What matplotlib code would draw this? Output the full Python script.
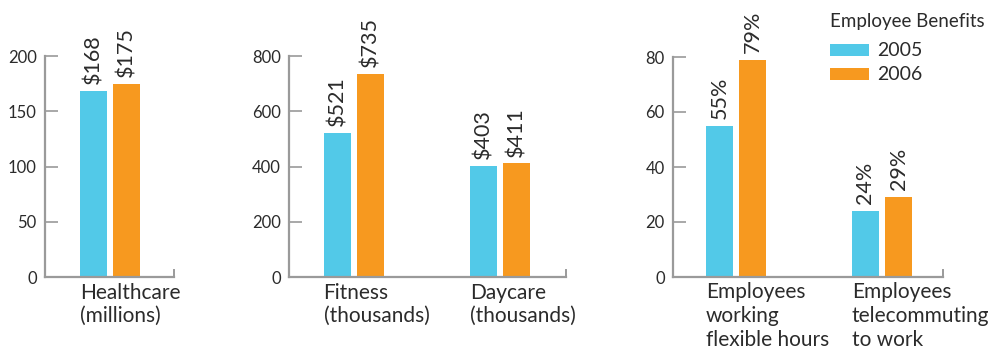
import matplotlib
matplotlib.use("Agg")
import matplotlib.pyplot as plt

plt.rcParams['font.family'] = ['Lato', 'DejaVu Sans']

# Employee benefits, 2005 vs 2006
years = ["2005", "2006"]
colors = ["#52C9E8", "#F7991F"]

health_cats = ["Healthcare\n(millions)"]
health_2005 = [168]
health_2006 = [175]

cost_cats = ["Fitness\n(thousands)", "Daycare\n(thousands)"]
cost_2005 = [521, 403]
cost_2006 = [735, 411]

pct_cats = ["Employees\nworking\nflexible hours", "Employees\ntelecommuting\nto work"]
pct_2005 = [55, 24]
pct_2006 = [79, 29]

W, H = 994, 354
fig = plt.figure(figsize=(W / 100, H / 100), dpi=100)

unit = 146.0            # pixels per category step
bw = 27 / unit          # bar width
off = 16.5 / unit       # offset of each bar from the group centre
axis_color = "#9a9a9a"
text_color = "#2b2b2b"


def make_panel(x0, x1, y_top, cats, v1, v2, ymax, step, fmt, xl):
    y0 = 277
    ax = fig.add_axes([x0 / W, (H - y0) / H, (x1 - x0) / W, (y0 - y_top) / H])
    xs = list(range(len(cats)))
    b1 = ax.bar([x - off for x in xs], v1, bw, color=colors[0], label=years[0])
    b2 = ax.bar([x + off for x in xs], v2, bw, color=colors[1], label=years[1])
    for bars, vals in ((b1, v1), (b2, v2)):
        for rect, v in zip(bars, vals):
            ax.annotate(fmt.format(v), (rect.get_x() + rect.get_width() / 2, v),
                        xytext=(0, 5), textcoords="offset points",
                        rotation=90, ha="center", va="bottom",
                        fontsize=15.5, color=text_color, annotation_clip=False)
    for x, c in zip(xs, cats):
        ax.text(x - off - bw / 2, -0.025 * ymax, c, ha="left", va="top",
                fontsize=15, color=text_color, linespacing=1.22)
    ax.set_xlim(*xl)
    ax.set_ylim(0, ymax)
    ax.set_yticks(range(0, ymax + 1, step))
    ax.set_xticks([])
    ax.spines["top"].set_visible(False)
    ax.spines["right"].set_visible(False)
    for s in ("left", "bottom"):
        ax.spines[s].set_color(axis_color)
        ax.spines[s].set_linewidth(1.6)
    ax.tick_params(axis="y", direction="in", length=9.5, width=1.2,
                   color=axis_color, labelsize=12, labelcolor=text_color, pad=6)
    # small upward tick closing the baseline on the right
    ax.plot([xl[1], xl[1]], [0, ymax * 0.03], color=axis_color, lw=1.4,
            clip_on=False)
    return ax


make_panel(45, 174, 56, health_cats, health_2005, health_2006, 200, 50,
           "${}", (-65 / unit, 64 / unit))
make_panel(289, 566, 56, cost_cats, cost_2005, cost_2006, 800, 200,
           "${}", (-64.5 / unit, 1 + 66 / unit))
ax3 = make_panel(673, 943, 57, pct_cats, pct_2005, pct_2006, 80, 20,
                 "{}%", (-63 / unit, 1 + 61 / unit))

leg = fig.legend(*ax3.get_legend_handles_labels(), title="Employee Benefits",
                 loc="upper left", bbox_to_anchor=(830 / W, 1 - 13 / H),
                 frameon=False, fontsize=14, title_fontsize=13.5,
                 handlelength=1.98, handleheight=0.59, handletextpad=0.43,
                 labelspacing=0.36, alignment="left", borderaxespad=0,
                 borderpad=0)
leg._legend_box.sep = 9
for t in leg.get_texts():
    t.set_color(text_color)
leg.get_title().set_color(text_color)

fig.savefig("out.png", dpi=100)
